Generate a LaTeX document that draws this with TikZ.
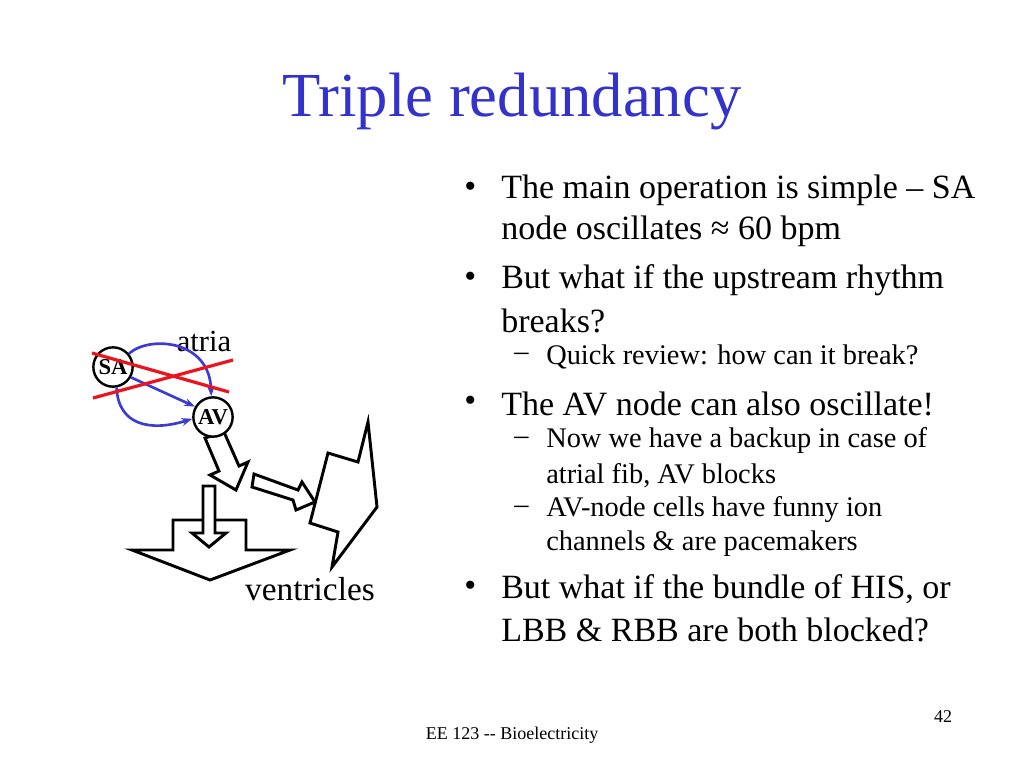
\documentclass[tikz,border=0pt]{standalone}
\usepackage{fontspec}
\setmainfont{Liberation Serif}
\usetikzlibrary{arrows.meta}
\definecolor{ttl}{RGB}{51,51,204}
\definecolor{bl}{RGB}{60,60,210}
\definecolor{rd}{RGB}{235,20,30}
\begin{document}
\begin{tikzpicture}[x=0.75pt,y=-0.75pt,
  bul/.style={anchor=west,font=\fontsize{25.5}{30}\selectfont,inner sep=0},
  sub/.style={anchor=west,font=\fontsize{21.3}{25}\selectfont,inner sep=0},
  blk/.style={draw=black,line width=2.2pt,fill=white,line join=miter},
  cnode/.style={circle,draw,line width=1.8pt,minimum size=29.5pt,inner sep=0,font=\bfseries\fontsize{17}{17}\selectfont},
  bc/.style={draw=bl,line width=2pt,-{Stealth[length=8pt]}},
  rl/.style={draw=rd,line width=2.4pt}]
\useasboundingbox (0,0) rectangle (1024,768);
\node[font=\fontsize{47}{50}\selectfont,text=ttl] (title) at (512,102) {Triple redundancy};
% bullets
\node[bul] (b1) at (464,190) {•};
\node[bul] (t1) at (501,190) {The main operation is simple – SA};
\node[bul] (t1b) at (501,231) {node oscillates ≈ 60 bpm};
\node[bul] (b2) at (464,280) {•};
\node[bul] (t2) at (501,280) {But what if the upstream rhythm};
\node[bul] (t2b) at (501,321) {breaks?};
\node[sub] (d1) at (514,357) {–};
\node[sub] (s1) at (546,357) {Quick review: how can it break?};
\node[bul] (b3) at (464,404) {•};
\node[bul] (t3) at (501,404) {The AV node can also oscillate!};
\node[sub] (d2) at (514,441) {–};
\node[sub] (s2) at (546,441) {Now we have a backup in case of};
\node[sub] (s2b) at (546,476) {atrial fib, AV blocks};
\node[sub] (d3) at (514,510) {–};
\node[sub] (s3) at (546,510) {AV-node cells have funny ion};
\node[sub] (s3b) at (546,544) {channels \& are pacemakers};
\node[bul] (b4) at (464,589) {•};
\node[bul] (t4) at (501,589) {But what if the bundle of HIS, or};
\node[bul] (t4b) at (501,630) {LBB \& RBB are both blocked?};
\node[font=\fontsize{13.5}{15}\selectfont] (foot) at (512,735) {EE 123 {-}{-} Bioelectricity};
\node[font=\fontsize{13.5}{15}\selectfont] (pg) at (943,717) {42};
% diagram
\node[font=\fontsize{23}{25}\selectfont] (atria) at (204,341) {atria};
\node[font=\fontsize{25}{27}\selectfont] (ventr) at (310,589) {ventricles};
\draw[blk] (132,550)--(173,550)--(173,520)--(246,520)--(246,550)--(290,550)--(210,580)--cycle;
\draw[blk] (328,453)--(358,462)--(368,422)--(377,507)--(332,567)--(338,532)--(310,523)--cycle;
\draw[blk] (205,438)--(224,432)--(239,466)--(248,462)--(236,490)--(210,475)--(219,471)--cycle;
\draw[blk] (254,474)--(298,490)--(302,482)--(315,502)--(296,510)--(293,500)--(252,487)--cycle;
\draw[blk] (203,486)--(215,486)--(215,533)--(226,533)--(209,547)--(192,533)--(203,533)--cycle;
\node[cnode,fill=white] (SA) at (113,367) {SA};
\node[cnode,fill=white] (AV) at (213,417) {AV};
\draw[bc] (SA.40) .. controls (150,335) and (210,340) .. (AV.95);
\draw[bc] (SA.-30) -- (AV.150);
\draw[bc] (SA.-80) .. controls (118,425) and (150,432) .. (AV.185);
\coordinate (r1a) at (92,353); \coordinate (r1b) at (229,392);
\coordinate (r2a) at (93,398); \coordinate (r2b) at (233,360);
\draw[rl] (r1a)--(r1b);
\draw[rl] (r2a)--(r2b);
\end{tikzpicture}
\end{document}
